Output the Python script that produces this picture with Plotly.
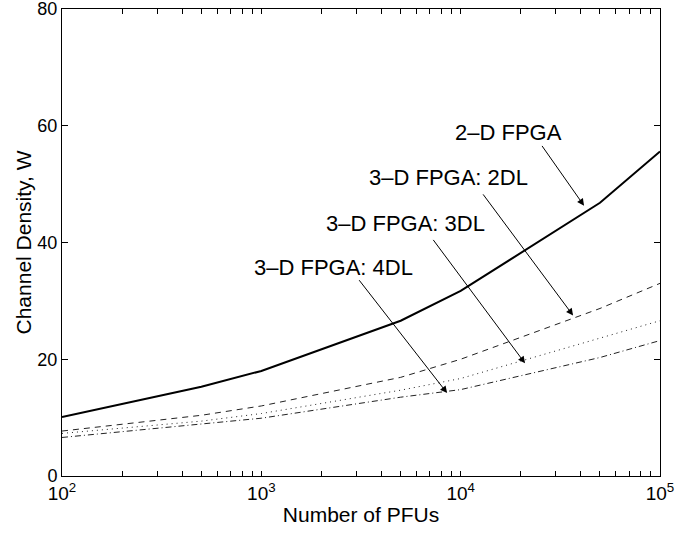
import plotly.graph_objects as go
import math

pfus = [100, 500, 1000, 5000, 10000, 50000, 100000]
fpga_2d = [10.1, 15.3, 18.0, 26.6, 31.7, 46.8, 55.6]
fpga_3d_2dl = [7.7, 10.4, 12.0, 16.9, 20.0, 28.7, 33.0]
fpga_3d_3dl = [7.3, 9.4, 10.7, 14.7, 16.7, 23.7, 26.6]
fpga_3d_4dl = [6.6, 8.9, 9.9, 13.5, 14.8, 20.3, 23.2]

labels = ["2–D FPGA", "3–D FPGA: 2DL", "3–D FPGA: 3DL", "3–D FPGA: 4DL"]
# label positions (x as PFUs, y as W)
label_x = [10**4.238, 10**3.937, 10**3.721, 10**3.36]
label_y = [58.8, 51.1, 43.2, 35.7]
arrow_tail_x = [10**4.403, 10**4.107, 10**3.857, 10**3.485]
arrow_tail_y = [56.8, 48.5, 40.7, 33.8]
arrow_head_x = [10**4.619, 10**4.564, 10**4.323, 10**3.932]
arrow_head_y = [46.3, 27.5, 19.3, 14.2]

major_ticks = [100, 1000, 10000, 100000]
major_text = ["10<sup>2</sup>", "10<sup>3</sup>", "10<sup>4</sup>", "10<sup>5</sup>"]
y_ticks = [0, 20, 40, 60, 80]

tickvals, ticktext = [], []
for d in [100, 1000, 10000]:
    for m in range(1, 10):
        tickvals.append(d * m)
        ticktext.append(major_text[major_ticks.index(d)] if m == 1 else "")
tickvals.append(100000)
ticktext.append(major_text[3])

FONT = "Liberation Sans, Arial, Helvetica, sans-serif"

fig = go.Figure()
fig.add_trace(go.Scatter(x=pfus, y=fpga_2d, mode="lines",
                         line=dict(color="black", width=2), name=labels[0]))
fig.add_trace(go.Scatter(x=pfus, y=fpga_3d_2dl, mode="lines",
                         line=dict(color="#222", width=1, dash="6px,5px"), name=labels[1]))
fig.add_trace(go.Scatter(x=pfus, y=fpga_3d_3dl, mode="lines",
                         line=dict(color="#222", width=1, dash="1px,4px"), name=labels[2]))
fig.add_trace(go.Scatter(x=pfus, y=fpga_3d_4dl, mode="lines",
                         line=dict(color="#222", width=1, dash="6px,3px,1px,3px"), name=labels[3]))

for i in range(4):
    fig.add_annotation(x=math.log10(arrow_head_x[i]), y=arrow_head_y[i],
                       ax=math.log10(arrow_tail_x[i]), ay=arrow_tail_y[i],
                       xref="x", yref="y", axref="x", ayref="y",
                       text="", showarrow=True, arrowhead=2, arrowsize=1.4,
                       arrowwidth=1, arrowcolor="black")
    fig.add_annotation(x=math.log10(label_x[i]), y=label_y[i], xref="x", yref="y",
                       text=labels[i], showarrow=False,
                       font=dict(family=FONT, size=22, color="black"))

fig.update_layout(
    width=694, height=533,
    margin=dict(l=62, r=34, t=9, b=57),
    paper_bgcolor="white", plot_bgcolor="white",
    showlegend=False,
    font=dict(family=FONT, color="black"),
)
fig.update_xaxes(type="log", range=[2, 5], tickvals=tickvals, ticktext=ticktext,
                 ticks="inside", ticklen=5, tickcolor="black", mirror="allticks",
                 showline=True, linecolor="black", linewidth=1, showgrid=False,
                 tickfont=dict(size=19), zeroline=False, automargin=False,
                 title=dict(text="Number of PFUs", font=dict(size=21), standoff=4))
fig.update_yaxes(range=[0, 80], tickvals=y_ticks,
                 ticks="inside", ticklen=6, tickcolor="black", mirror="allticks",
                 showline=True, linecolor="black", linewidth=1, showgrid=False,
                 tickfont=dict(size=18), zeroline=False, automargin=False,
                 ticklabeloverflow="allow",
                 title=dict(text="Channel Density, W", font=dict(size=21), standoff=0))

fig.write_html("out.html")
